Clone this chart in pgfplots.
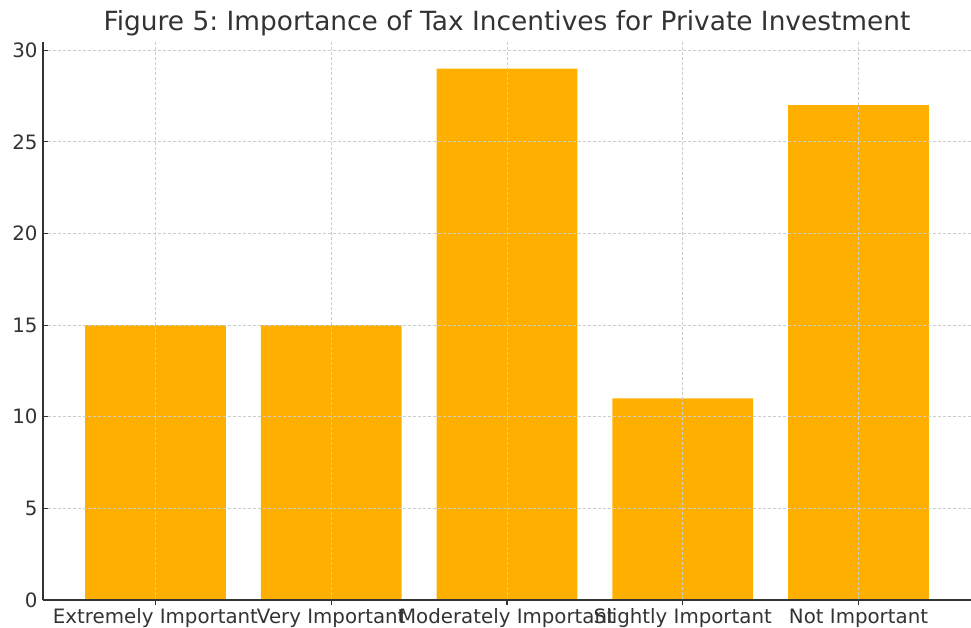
\documentclass[border=0pt]{standalone}
\usepackage{fontspec}
\setmainfont{DejaVu Sans}
\usepackage{pgfplots}
\pgfplotsset{compat=1.18}
\frenchspacing
\definecolor{barc}{HTML}{FFAF00}
\definecolor{txt}{HTML}{333333}
\definecolor{gridc}{HTML}{CCCCCC}
\begin{document}
\begin{tikzpicture}
\begin{axis}[
  name=ax,
  scale only axis,
  width=928pt, height=558pt,
  at={(0pt,0pt)}, anchor=south west,
  xmin=-0.64, xmax=4.64,
  ymin=0, ymax=30.45,
  axis x line*=bottom, axis y line*=left,
  axis line style={txt, line width=1.3pt},
  xtick={0,1,2,3,4},
  xticklabels={Extremely Important,Very Important,Moderately Important,Slightly Important,Not Important},
  ytick={0,5,10,15,20,25,30},
  /pgf/number format/assume math mode=true,
  tick label style={font=\fontsize{19.8}{23}\selectfont, text=txt},
  xticklabel style={text height=0.75em, text depth=0.25em, yshift=-7pt},
  tick style={txt, line width=1.2pt},
  major tick length=5pt,
  tick align=inside,
  grid=major,
  major grid style={gridc, line width=0.9pt, dash pattern=on 3pt off 2pt},
  axis on top,
  ybar, bar width=0.8, bar shift=0pt,
  title={Figure 5: Importance of Tax Incentives for Private Investment},
  title style={font=\fontsize{26.4}{30}\selectfont, text=txt, anchor=base, at={(0.5,1)}, yshift=5pt},
  yticklabel style={xshift=-2pt},
]
\addplot[fill=barc, draw=none] coordinates {(0,15) (1,15) (2,29) (3,11) (4,27)};
\end{axis}
\pgfresetboundingbox
\useasboundingbox (-43pt,-28pt) rectangle (928pt,600pt);
\end{tikzpicture}
\end{document}
